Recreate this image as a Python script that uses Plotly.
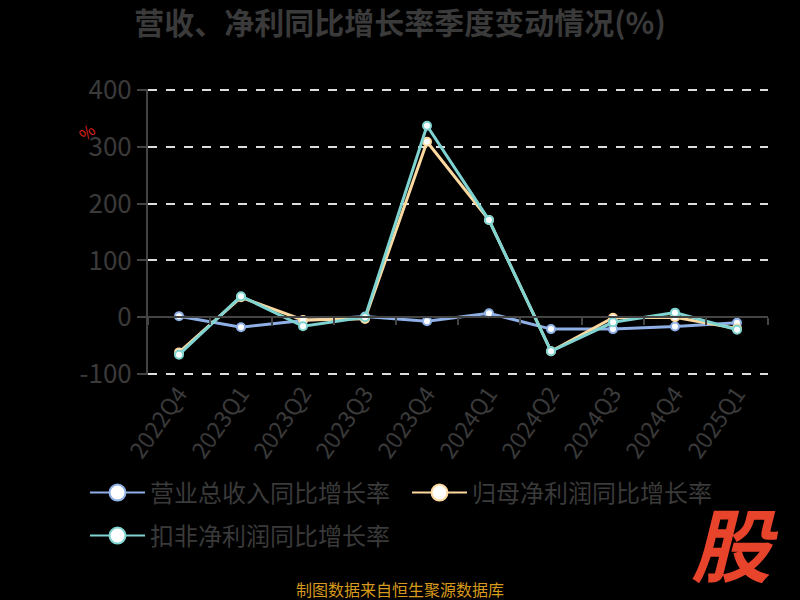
import plotly.graph_objects as go

quarters = ['2022Q4', '2023Q1', '2023Q2', '2023Q3', '2023Q4',
            '2024Q1', '2024Q2', '2024Q3', '2024Q4', '2025Q1']
revenue_yoy = [1.8, -17.6, -6, 1, -7, 7, -21, -21, -16.5, -10]
parent_np_yoy = [-62, 35, -5, -3, 309, 171, -60, -1, 0, -20]
deducted_np_yoy = [-66, 37, -16, 0, 337, 171, -60, -9, 8, -22]

y_ticks = [-100, 0, 100, 200, 300, 400]
y_tick_text = ['-100', '0', '100', '200', '300', '400']

names = ['营业总收入同比增长率', '归母净利润同比增长率', '扣非净利润同比增长率']
colors = ['#8fb0e6', '#fdd9a0', '#7fd4d1']
series = [revenue_yoy, parent_np_yoy, deducted_np_yoy]
legend_ids = ['legend', 'legend', 'legend2']

FONT = 'Noto Sans CJK SC'

# plot area in page pixels (range padded by ~1px so edge gridlines get drawn)
L, R, T, B = 148, 768, 89, 375
W, H = R - L, B - T
Y_RANGE = [-101.8, 401.8]


def px(x, y):
    return (x - L) / W, (B - y) / H


fig = go.Figure()

# real lines (teal drawn last, on top)
for name, vals, col in zip(names, series, colors):
    fig.add_trace(go.Scatter(
        x=quarters, y=vals, mode='lines+markers', name=name,
        line=dict(color=col, width=3),
        marker=dict(size=8, color='white', line=dict(color=col, width=2)),
        showlegend=False,
    ))

# legend entries with big hollow circles
for name, col, lg in zip(names, colors, legend_ids):
    fig.add_trace(go.Scatter(
        x=[None], y=[None], mode='lines+markers', name=name, legend=lg,
        line=dict(color=col, width=2),
        marker=dict(size=22, color='white', line=dict(color=col, width=2)),
    ))

# zero axis with ticks on category boundaries
fig.add_trace(go.Scatter(x=quarters, y=[None] * len(quarters), xaxis='x2',
                         showlegend=False, hoverinfo='skip'))

ann = []
x, y = px(86, 132)
ann.append(dict(text='%', x=x, y=y, showarrow=False, textangle=-40,
                font=dict(size=16, color='#e0201a')))
x, y = px(735, 541)
ann.append(dict(text='<b><i>股</i></b>', x=x, y=y, showarrow=False,
                font=dict(size=80, color='#e8432b', family=FONT)))
x, y = px(400, 589)
ann.append(dict(text='制图数据来自恒生聚源数据库', x=x, y=y, showarrow=False,
                font=dict(size=16, color='#d89a1c', family=FONT)))
for a in ann:
    a.update(xref='paper', yref='paper', xanchor='center', yanchor='middle')

zero_pos = (0 - Y_RANGE[0]) / (Y_RANGE[1] - Y_RANGE[0])
lx, ly1 = px(85, 493)
_, ly2 = px(85, 536)
legend_style = dict(orientation='h', x=lx, xanchor='left', yanchor='middle',
                    font=dict(size=24, color='#3a3a3a'), bgcolor='rgba(0,0,0,0)',
                    itemwidth=55, entrywidth=252, entrywidthmode='pixels')

fig.update_layout(
    width=800, height=600,
    paper_bgcolor='black', plot_bgcolor='black',
    margin=dict(l=L, r=800 - R, t=T, b=600 - B, autoexpand=False),
    font=dict(family=FONT, color='#3a3a3a'),
    title=dict(text='<b>营收、净利同比增长率季度变动情况(%)</b>', x=0.5, y=1 - 23 / 600,
               xanchor='center', yanchor='middle',
               font=dict(size=30, color='#3a3a3a', family=FONT)),
    xaxis=dict(type='category', showgrid=False, showline=False, ticks='',
               tickangle=-55, tickfont=dict(size=23, color='#3a3a3a'),
               range=[-0.5, 9.5]),
    xaxis2=dict(type='category', overlaying='x', anchor='free', position=zero_pos,
                side='bottom', showticklabels=False, showgrid=False,
                showline=True, linecolor='#444444', linewidth=2,
                ticks='outside', tickson='boundaries', ticklen=7,
                tickcolor='#444444', tickwidth=2, range=[-0.5, 9.5],
                matches='x'),
    yaxis=dict(range=Y_RANGE, tickvals=y_ticks, ticktext=y_tick_text,
               showgrid=True, gridcolor='#dddddd', griddash='dash', gridwidth=2,
               zeroline=False, showline=True, linecolor='#444444', linewidth=2,
               ticks='outside', ticklen=9, tickcolor='#444444', tickwidth=2,
               tickfont=dict(size=26, color='#3a3a3a')),
    legend=dict(y=ly1, **legend_style),
    legend2=dict(y=ly2, **legend_style),
    annotations=ann,
)

fig.write_html("out.html", config={'displayModeBar': False},
               post_script="document.body.style.margin='0';"
                           "document.body.style.background='black';")
